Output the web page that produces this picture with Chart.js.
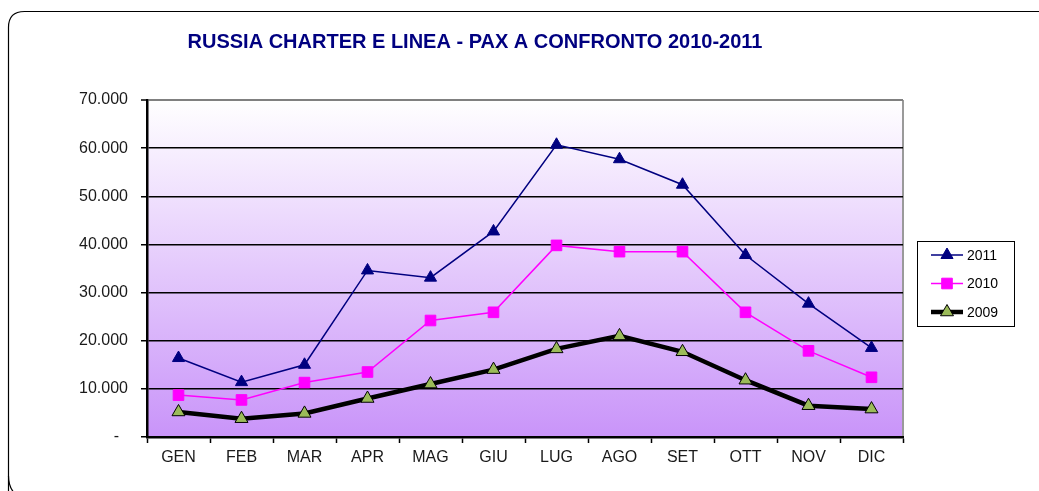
<!DOCTYPE html>
<html>
<head>
<meta charset="utf-8">
<script src="https://cdn.jsdelivr.net/npm/chart.js@4.4.1/dist/chart.umd.min.js"></script>
<style>
  html, body { margin: 0; padding: 0; background: #ffffff; }
  #wrap { width: 1039px; height: 491px; position: relative; }
</style>
</head>
<body>
<div id="wrap"><canvas id="c"></canvas></div>
<script>
const chartTitle = 'RUSSIA CHARTER E LINEA - PAX A CONFRONTO 2010-2011';
const months = ['GEN','FEB','MAR','APR','MAG','GIU','LUG','AGO','SET','OTT','NOV','DIC'];
const seriesNames = ['2011', '2010', '2009'];
const pax2011 = [16400, 11400, 15000, 34600, 33100, 42700, 60700, 57700, 52400, 37800, 27700, 18500];
const pax2010 = [8700, 7700, 11300, 13500, 24200, 25900, 39800, 38500, 38500, 25900, 17900, 12400];
const pax2009 = [5200, 3800, 4900, 8000, 11000, 14000, 18300, 21000, 17700, 11800, 6500, 5800];
const yTickLabels = ['-  ', '10.000', '20.000', '30.000', '40.000', '50.000', '60.000', '70.000'];

const FONT = '"Liberation Sans", Arial, sans-serif';

const styles = [
  { color: '#000080', width: 1.5, point: 'triangle', pointBg: '#000080', pointBorder: '#000080', radius: 7 },
  { color: '#FF00FF', width: 1.5, point: 'rect', pointBg: '#FF00FF', pointBorder: '#FF00FF', radius: 7.5 },
  { color: '#000000', width: 4.5, point: 'triangle', pointBg: '#9BBB59', pointBorder: '#000000', radius: 7.5 }
];
const seriesData = [pax2011, pax2010, pax2009];

const decorPlugin = {
  id: 'decor',
  beforeDraw(chart) {
    const ctx = chart.ctx;
    const a = chart.chartArea;
    ctx.save();
    // outer rounded frame
    ctx.strokeStyle = '#000';
    ctx.lineWidth = 1.2;
    const x = 8.5, y = 11.5, w = 1060, h = 480, r = 16;
    ctx.beginPath();
    ctx.moveTo(x + r, y);
    ctx.lineTo(x + w, y);
    ctx.moveTo(x, y + h);
    ctx.lineTo(x, y + r);
    ctx.quadraticCurveTo(x, y, x + r, y);
    ctx.stroke();
    ctx.beginPath();
    ctx.moveTo(x, 476);
    ctx.quadraticCurveTo(x, 486, x + 5, 492);
    ctx.stroke();
    // plot background gradient
    const g = ctx.createLinearGradient(0, a.top, 0, a.bottom);
    g.addColorStop(0, '#FFFFFF');
    g.addColorStop(1, '#C994F9');
    ctx.fillStyle = g;
    ctx.fillRect(a.left, a.top, a.right - a.left, a.bottom - a.top);
    // right plot border
    ctx.strokeStyle = '#9a9a9a';
    ctx.lineWidth = 2;
    ctx.beginPath();
    ctx.moveTo(a.right, a.top);
    ctx.lineTo(a.right, a.bottom);
    ctx.stroke();
    // title
    ctx.fillStyle = '#000080';
    ctx.font = 'bold 20px ' + FONT;
    ctx.textAlign = 'center';
    ctx.textBaseline = 'middle';
    ctx.fillText(chartTitle, 475, 42);
    ctx.restore();
  },
  afterDraw(chart) {
    const ctx = chart.ctx;
    ctx.save();
    // legend box
    ctx.fillStyle = '#fff';
    ctx.fillRect(917.5, 241.5, 97, 85);
    ctx.strokeStyle = '#000';
    ctx.lineWidth = 1;
    ctx.strokeRect(917.5, 241.5, 97, 85);
    const ys = [255, 283.5, 312];
    seriesNames.forEach((name, i) => {
      const s = styles[i];
      ctx.strokeStyle = s.color;
      ctx.lineWidth = s.width;
      ctx.beginPath();
      ctx.moveTo(931, ys[i]);
      ctx.lineTo(963, ys[i]);
      ctx.stroke();
      ctx.fillStyle = s.pointBg;
      ctx.strokeStyle = s.pointBorder;
      ctx.lineWidth = 1;
      ctx.beginPath();
      if (s.point === 'rect') {
        const side = s.radius * Math.SQRT1_2;
        ctx.rect(947 - side, ys[i] - side, side * 2, side * 2);
      } else {
        for (let k = 0; k < 3; k++) {
          const ang = k * 2 * Math.PI / 3;
          const px = 947 + Math.sin(ang) * s.radius;
          const py = ys[i] - Math.cos(ang) * s.radius;
          if (k === 0) ctx.moveTo(px, py); else ctx.lineTo(px, py);
        }
        ctx.closePath();
      }
      ctx.fill();
      ctx.stroke();
      ctx.fillStyle = '#000';
      ctx.font = '14px ' + FONT;
      ctx.textAlign = 'left';
      ctx.textBaseline = 'middle';
      ctx.fillText(name, 967, ys[i] + 1);
    });
    ctx.restore();
  }
};

const datasets = seriesNames.map((name, i) => ({
  label: name,
  data: seriesData[i],
  borderColor: styles[i].color,
  borderWidth: styles[i].width,
  pointStyle: styles[i].point,
  pointRadius: styles[i].radius,
  pointHoverRadius: styles[i].radius,
  pointBackgroundColor: styles[i].pointBg,
  pointBorderColor: styles[i].pointBorder,
  pointBorderWidth: 1,
  tension: 0,
  fill: false,
  order: i
}));

new Chart(document.getElementById('c'), {
  type: 'line',
  data: { labels: months, datasets: datasets },
  plugins: [decorPlugin],
  options: {
    responsive: true,
    maintainAspectRatio: false,
    animation: false,
    events: [],
    layout: { padding: { top: 100, right: 136, left: 0, bottom: 0 } },
    plugins: {
      legend: { display: false },
      title: { display: false },
      tooltip: { enabled: false }
    },
    scales: {
      x: {
        offset: true,
        afterFit(scale) { scale.height = 54; },
        grid: {
          offset: true,
          drawOnChartArea: false,
          drawTicks: true,
          tickLength: 6,
          tickColor: '#000',
          tickWidth: 1.5
        },
        border: { display: true, color: '#000', width: 2.5 },
        ticks: {
          color: '#1a1a1a',
          font: { family: FONT, size: 16 },
          padding: 5,
          maxRotation: 0,
          autoSkip: false
        }
      },
      y: {
        min: 0,
        max: 70000,
        afterFit(scale) { scale.width = 147; },
        grid: {
          color: (c) => (c.tick && c.tick.value === 70000) ? '#808080' : '#000',
          lineWidth: (c) => (c.tick && c.tick.value === 70000) ? 2 : 1.5,
          tickLength: 6,
          tickColor: '#000',
          tickWidth: 1.5
        },
        border: { display: true, color: '#000', width: 2.5 },
        ticks: {
          stepSize: 10000,
          color: '#1a1a1a',
          font: { family: FONT, size: 16 },
          padding: 13,
          callback: (v, idx) => yTickLabels[idx]
        }
      }
    }
  }
});
</script>
</body>
</html>
